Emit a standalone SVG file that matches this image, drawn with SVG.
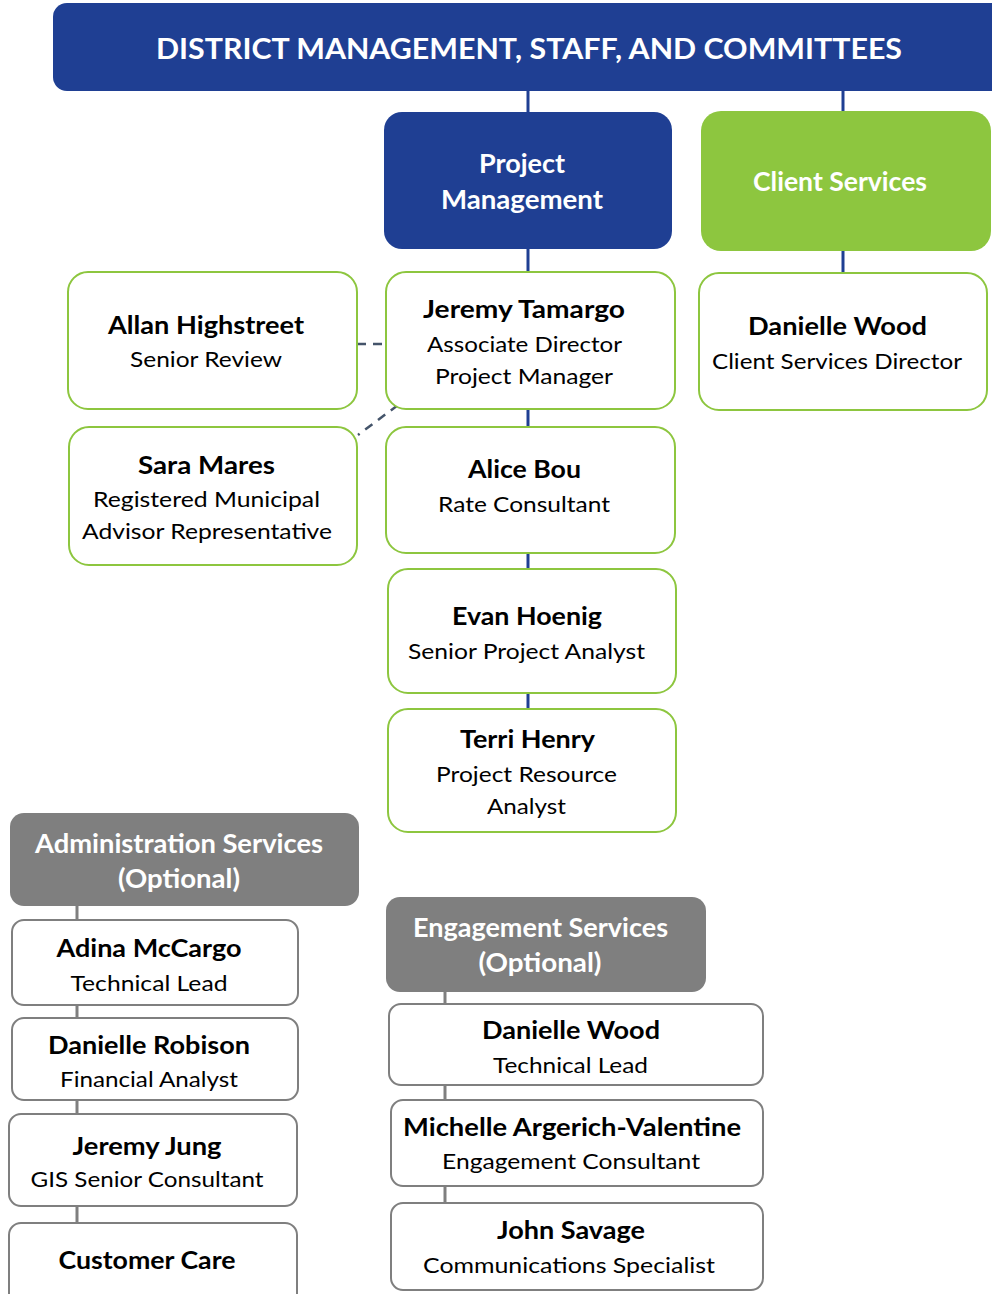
<svg xmlns="http://www.w3.org/2000/svg" width="992" height="1294" viewBox="0 0 992 1294">
<style>
text{font-family:Lato,"Open Sans","Liberation Sans",sans-serif;text-anchor:middle}
.hd{fill:#fff;font-weight:bold;font-size:27px}
.bn{fill:#fff;font-weight:bold;font-size:29px}
.nm{fill:#000;font-weight:bold;font-size:25px}
.sb{fill:#000;font-size:22px}
.navy{fill:#1f3f93}
.green{fill:#8dc63f}
.grey{fill:#7f7f7f}
.gbox{fill:#fff;stroke:#8dc63f;stroke-width:2}
.pbox{fill:#fff;stroke:#7f7f7f;stroke-width:2}
.cn{stroke:#1f3f93;stroke-width:3;fill:none}
.cg{stroke:#7f7f7f;stroke-width:3;fill:none}
.cd{stroke:#44546a;stroke-width:2.5;stroke-dasharray:9 7;fill:none}
</style>
<g id="connectors">
<line class="cn" x1="528" y1="90" x2="528" y2="113"/>
<line class="cn" x1="843" y1="90" x2="843" y2="112"/>
<line class="cn" x1="528" y1="248" x2="528" y2="273"/>
<line class="cn" x1="843" y1="250" x2="843" y2="274"/>
<line class="cn" x1="528" y1="408" x2="528" y2="428"/>
<line class="cn" x1="528" y1="552" x2="528" y2="570"/>
<line class="cn" x1="528" y1="692" x2="528" y2="710"/>
<line class="cg" x1="77" y1="905" x2="77" y2="921"/>
<line class="cg" x1="77" y1="1004" x2="77" y2="1019"/>
<line class="cg" x1="77" y1="1099" x2="77" y2="1115"/>
<line class="cg" x1="77" y1="1205" x2="77" y2="1224"/>
<line class="cg" x1="445" y1="991" x2="445" y2="1005"/>
<line class="cg" x1="445" y1="1084" x2="445" y2="1101"/>
<line class="cg" x1="445" y1="1185" x2="445" y2="1204"/>
<line class="cd" x1="357" y1="344" x2="386" y2="344"/>
<line class="cd" x1="398" y1="405" x2="358" y2="435"/>
</g>
<g id="banner">
<rect class="navy" x="53" y="3" width="960" height="88" rx="14"/>
<text class="bn" x="529" y="59" textLength="746" lengthAdjust="spacingAndGlyphs">DISTRICT MANAGEMENT, STAFF, AND COMMITTEES</text>
</g>
<g id="project-management">
<rect class="navy" x="384" y="112" width="288" height="137" rx="18"/>
<text class="hd" x="522" y="173" textLength="86" lengthAdjust="spacingAndGlyphs">Project</text>
<text class="hd" x="522" y="209" textLength="162" lengthAdjust="spacingAndGlyphs">Management</text>
</g>
<g id="client-services">
<rect class="green" x="701" y="111" width="290" height="140" rx="20"/>
<text class="hd" x="840" y="191" textLength="174" lengthAdjust="spacingAndGlyphs">Client Services</text>
</g>
<g id="allan">
<rect class="gbox" x="68" y="272" width="289" height="137" rx="20"/>
<text class="nm" x="206" y="334" textLength="196" lengthAdjust="spacingAndGlyphs">Allan Highstreet</text>
<text class="sb" x="206" y="367" textLength="152" lengthAdjust="spacingAndGlyphs">Senior Review</text>
</g>
<g id="jeremy-tamargo">
<rect class="gbox" x="386" y="272" width="289" height="137" rx="20"/>
<text class="nm" x="524" y="318" textLength="202" lengthAdjust="spacingAndGlyphs">Jeremy Tamargo</text>
<text class="sb" x="524.5" y="352" textLength="195" lengthAdjust="spacingAndGlyphs">Associate Director</text>
<text class="sb" x="524" y="384" textLength="178" lengthAdjust="spacingAndGlyphs">Project Manager</text>
</g>
<g id="danielle-wood-cs">
<rect class="gbox" x="699" y="273" width="288" height="137" rx="20"/>
<text class="nm" x="837.5" y="335" textLength="179" lengthAdjust="spacingAndGlyphs">Danielle Wood</text>
<text class="sb" x="837" y="369" textLength="250" lengthAdjust="spacingAndGlyphs">Client Services Director</text>
</g>
<g id="sara">
<rect class="gbox" x="69" y="427" width="288" height="138" rx="20"/>
<text class="nm" x="206.5" y="474" textLength="137" lengthAdjust="spacingAndGlyphs">Sara Mares</text>
<text class="sb" x="206.5" y="507" textLength="227" lengthAdjust="spacingAndGlyphs">Registered Municipal</text>
<text class="sb" x="207" y="539" textLength="250" lengthAdjust="spacingAndGlyphs">Advisor Representative</text>
</g>
<g id="alice">
<rect class="gbox" x="386" y="427" width="289" height="126" rx="20"/>
<text class="nm" x="524.5" y="478" textLength="113" lengthAdjust="spacingAndGlyphs">Alice Bou</text>
<text class="sb" x="524" y="512" textLength="172" lengthAdjust="spacingAndGlyphs">Rate Consultant</text>
</g>
<g id="evan">
<rect class="gbox" x="388" y="569" width="288" height="124" rx="20"/>
<text class="nm" x="527" y="625" textLength="150" lengthAdjust="spacingAndGlyphs">Evan Hoenig</text>
<text class="sb" x="526.5" y="659" textLength="237" lengthAdjust="spacingAndGlyphs">Senior Project Analyst</text>
</g>
<g id="terri">
<rect class="gbox" x="388" y="709" width="288" height="123" rx="20"/>
<text class="nm" x="527.5" y="748" textLength="135" lengthAdjust="spacingAndGlyphs">Terri Henry</text>
<text class="sb" x="526.5" y="782" textLength="181" lengthAdjust="spacingAndGlyphs">Project Resource</text>
<text class="sb" x="526.5" y="814" textLength="79" lengthAdjust="spacingAndGlyphs">Analyst</text>
</g>
<g id="admin-services">
<rect class="grey" x="10" y="813" width="349" height="93" rx="14"/>
<text class="hd" x="179" y="853" textLength="288" lengthAdjust="spacingAndGlyphs">Administration Services</text>
<text class="hd" x="179" y="888" textLength="122" lengthAdjust="spacingAndGlyphs">(Optional)</text>
</g>
<g id="adina">
<rect class="pbox" x="12" y="920" width="286" height="85" rx="12"/>
<text class="nm" x="149" y="957" textLength="185" lengthAdjust="spacingAndGlyphs">Adina McCargo</text>
<text class="sb" x="149" y="991" textLength="157" lengthAdjust="spacingAndGlyphs">Technical Lead</text>
</g>
<g id="danielle-robison">
<rect class="pbox" x="12" y="1018" width="286" height="82" rx="12"/>
<text class="nm" x="149" y="1054" textLength="202" lengthAdjust="spacingAndGlyphs">Danielle Robison</text>
<text class="sb" x="149" y="1087" textLength="178" lengthAdjust="spacingAndGlyphs">Financial Analyst</text>
</g>
<g id="jeremy-jung">
<rect class="pbox" x="9" y="1114" width="288" height="92" rx="12"/>
<text class="nm" x="147" y="1155" textLength="149" lengthAdjust="spacingAndGlyphs">Jeremy Jung</text>
<text class="sb" x="147" y="1187" textLength="233" lengthAdjust="spacingAndGlyphs">GIS Senior Consultant</text>
</g>
<g id="customer-care">
<rect class="pbox" x="9" y="1223" width="288" height="84" rx="12"/>
<text class="nm" x="147" y="1269" textLength="177" lengthAdjust="spacingAndGlyphs">Customer Care</text>
</g>
<g id="engagement-services">
<rect class="grey" x="386" y="897" width="320" height="95" rx="14"/>
<text class="hd" x="540.5" y="937" textLength="255" lengthAdjust="spacingAndGlyphs">Engagement Services</text>
<text class="hd" x="540" y="972" textLength="123" lengthAdjust="spacingAndGlyphs">(Optional)</text>
</g>
<g id="danielle-wood-tl">
<rect class="pbox" x="389" y="1004" width="374" height="81" rx="12"/>
<text class="nm" x="571" y="1039" textLength="178" lengthAdjust="spacingAndGlyphs">Danielle Wood</text>
<text class="sb" x="570.5" y="1073" textLength="155" lengthAdjust="spacingAndGlyphs">Technical Lead</text>
</g>
<g id="michelle">
<rect class="pbox" x="391" y="1100" width="372" height="86" rx="12"/>
<text class="nm" x="572" y="1136" textLength="338" lengthAdjust="spacingAndGlyphs">Michelle Argerich-Valentine</text>
<text class="sb" x="571" y="1169" textLength="258" lengthAdjust="spacingAndGlyphs">Engagement Consultant</text>
</g>
<g id="john">
<rect class="pbox" x="391" y="1203" width="372" height="87" rx="12"/>
<text class="nm" x="571" y="1239" textLength="148" lengthAdjust="spacingAndGlyphs">John Savage</text>
<text class="sb" x="569" y="1273" textLength="292" lengthAdjust="spacingAndGlyphs">Communications Specialist</text>
</g>
</svg>
